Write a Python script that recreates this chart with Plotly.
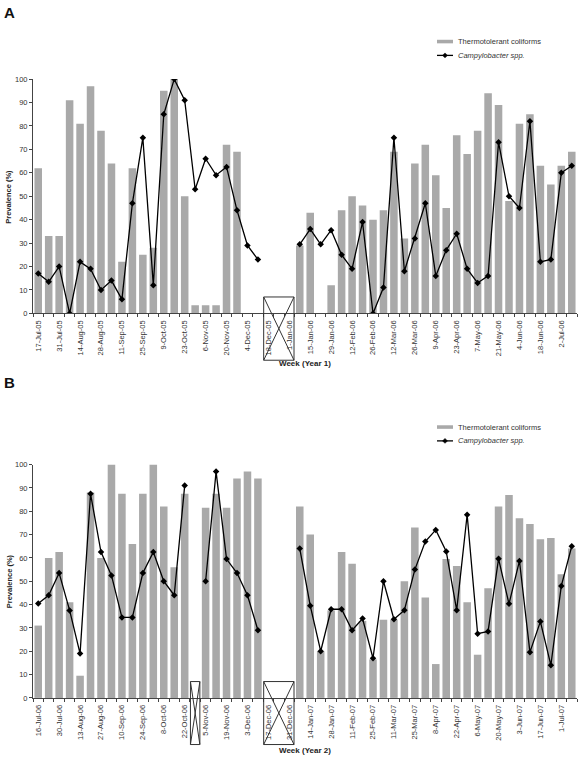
import pandas as pd
import plotly.graph_objects as go

W, H = 580, 778

# ---- categories (weekly sampling dates) ----
weeks_a = [d.strftime("%-d-%b-%y") for d in pd.date_range("2005-07-17", periods=52, freq="7D")]
weeks_b = [d.strftime("%-d-%b-%y") for d in pd.date_range("2006-07-16", periods=52, freq="7D")]
ticks_a = weeks_a[::2]
ticks_b = weeks_b[::2]

# ---- series values (prevalence %) ----
coliforms_a = [62, 33, 33, 91, 81, 97, 78, 64, 22, 62, 25, 28, 95, 100, 50, 3.5, 3.5, 3.5, 72, 69, None, None,
               None, None, None,
               29, 43, None, 12, 44, 50, 46, 40, 44, 69, 32, 64, 72, 59, 45, 76, 68, 78, 94, 89,
               48, 81, 85, 63, 55, 63, 69]
campy_a = [17, 13.5, 20, 0, 22, 19, 10, 14, 6, 47, 75, 12, 85, 100, 91, 53, 66, 59, 62.5, 44, 29, 23,
           None, None, None,
           29.5, 36, 29.5, 35.5, 25, 19, 39, 0, 11, 75, 18, 32, 47, 16, 27, 34, 19, 13, 16, 73,
           50, 45, 82, 22, 23, 60, 63]

coliforms_b = [31, 60, 62.5, 41, 9.5, 88, 60, 100, 87.5, 66, 87.5, 100, 82, 56, 87.5, None,
               81.5, 87.5, 81.5, 94, 97, 94, None, None, None,
               82, 70, 20, 37.5, 62.5, 57.5, 33, 16.5, 33.5, 33.5, 50, 73, 43, 14.5, 59.5, 56.5,
               41, 18.5, 47, 82, 87, 77, 74.5, 68, 68.5, 53, 64]
campy_b = [40.5, 44, 53.5, 37.5, 19, 87.5, 62.5, 52.5, 34.5, 34.5, 53.5, 62.5, 50, 44, 91, None,
           50, 97, 59.5, 53.5, 44, 29, None, None, None,
           64, 39.5, 20, 38, 38, 29, 34, 17, 50, 33.7, 37.6, 55, 67, 72, 62.8, 37.6,
           78.5, 27.5, 28.5, 59.6, 40.3, 58.7, 19.6, 32.7, 14, 48, 65]

# weeks with no sampling (marked with crossed boxes)
gaps_a = [("18-Dec-05", "1-Jan-06")]
gaps_b = [("29-Oct-06", "29-Oct-06"), ("17-Dec-06", "31-Dec-06")]

legend_names = ["Thermotolerant coliforms", "<i>Campylobacter spp.</i>"]
y_ticks = list(range(0, 101, 10))

FONT = "Liberation Sans, Arial, sans-serif"
BAR_COLOR = "#a9a9a9"
AXIS_COLOR = "#444444"

def px(x):
    return x / W

def py(y):
    return 1 - y / H

X_DOM = [px(33), px(577)]
YA_DOM = [py(313), py(76)]
YB_DOM = [py(702), py(466)]

fig = go.Figure()

def add_panel(weeks, colif, campy, xa, ya):
    idx = list(range(len(weeks)))
    fig.add_trace(go.Bar(x=idx, y=colif, width=0.72, marker=dict(color=BAR_COLOR, line=dict(width=0)),
                         xaxis=xa, yaxis=ya, showlegend=False, name=legend_names[0],
                         customdata=weeks, hovertemplate="%{customdata}: %{y}%<extra></extra>"))
    fig.add_trace(go.Scatter(x=idx, y=campy, mode="lines+markers", connectgaps=False,
                             line=dict(color="black", width=1.3),
                             marker=dict(symbol="diamond", size=5, color="black"),
                             xaxis=xa, yaxis=ya, showlegend=False, name=legend_names[1],
                             customdata=weeks, hovertemplate="%{customdata}: %{y}%<extra></extra>"))

add_panel(weeks_a, coliforms_a, campy_a, "x", "y")
add_panel(weeks_b, coliforms_b, campy_b, "x2", "y2")

def xaxis_cfg(weeks, ticklabels):
    n = len(weeks)
    return dict(domain=X_DOM, range=[-0.5, n - 0.5], showline=True, linecolor=AXIS_COLOR, linewidth=1,
                tickmode="array", tickvals=[weeks.index(t) for t in ticklabels], ticktext=ticklabels,
                tickangle=-90, ticks="outside", ticklen=3, tickcolor="rgba(0,0,0,0)",
                tickfont=dict(family=FONT, size=7.5, color="#333"),
                minor=dict(tickmode="array", tickvals=[i - 0.5 for i in range(n + 1)],
                           ticks="outside", ticklen=3, tickcolor=AXIS_COLOR),
                showgrid=False, zeroline=False, fixedrange=True)

def yaxis_cfg(dom, anchor):
    return dict(domain=dom, anchor=anchor, range=[0, 100], showline=True, linecolor=AXIS_COLOR, linewidth=1,
                tickmode="array", tickvals=y_ticks, ticks="outside", ticklen=3, tickcolor=AXIS_COLOR,
                tickfont=dict(family=FONT, size=7.5, color="#333"), showgrid=False, zeroline=False,
                fixedrange=True)

fig.update_layout(
    width=W, height=H, margin=dict(l=0, r=0, t=0, b=0),
    paper_bgcolor="white", plot_bgcolor="white", bargap=0.28, showlegend=False,
    xaxis=dict(anchor="y", **xaxis_cfg(weeks_a, ticks_a)),
    yaxis=yaxis_cfg(YA_DOM, "x"),
    xaxis2=dict(anchor="y2", **xaxis_cfg(weeks_b, ticks_b)),
    yaxis2=yaxis_cfg(YB_DOM, "x2"),
)

shapes = []
annotations = []

def gap_boxes(weeks, gaps, xr, yr):
    n = len(weeks)
    for a, b in gaps:
        i0, i1 = weeks.index(a), weeks.index(b)
        x0 = (i0 - 0.45 + 0.5) / n
        x1 = (i1 + 0.45 + 0.5) / n
        yt, yb = 0.07, -0.2
        st = dict(xref=xr + " domain", yref=yr + " domain", line=dict(color="#333", width=1), layer="above")
        shapes.append(dict(type="rect", x0=x0, x1=x1, y0=yb, y1=yt, fillcolor="rgba(0,0,0,0)", **st))
        shapes.append(dict(type="line", x0=x0, x1=x1, y0=yt, y1=yb, **st))
        shapes.append(dict(type="line", x0=x1, x1=x0, y0=yt, y1=yb, **st))

gap_boxes(weeks_a, gaps_a, "x", "y")
gap_boxes(weeks_b, gaps_b, "x2", "y2")

def legend(ytop):
    # bar swatch
    shapes.append(dict(type="rect", xref="paper", yref="paper", x0=px(437), x1=px(453),
                       y0=py(ytop + 1.8), y1=py(ytop - 1.8), fillcolor=BAR_COLOR, line=dict(width=0)))
    annotations.append(dict(xref="paper", yref="paper", x=px(456), y=py(ytop), text=legend_names[0],
                            showarrow=False, xanchor="left", yanchor="middle",
                            font=dict(family=FONT, size=7.5, color="#333")))
    y2 = ytop + 14
    shapes.append(dict(type="line", xref="paper", yref="paper", x0=px(437), x1=px(453),
                       y0=py(y2), y1=py(y2), line=dict(color="black", width=1.3)))
    cx, cy, r = 445, y2, 2.5
    shapes.append(dict(type="path", xref="paper", yref="paper",
                       path=f"M{px(cx)},{py(cy - r)} L{px(cx + r)},{py(cy)} L{px(cx)},{py(cy + r)} L{px(cx - r)},{py(cy)} Z",
                       fillcolor="black", line=dict(color="black", width=0.5)))
    annotations.append(dict(xref="paper", yref="paper", x=px(456), y=py(y2), text=legend_names[1],
                            showarrow=False, xanchor="left", yanchor="middle",
                            font=dict(family=FONT, size=7.5, color="#333")))

legend(38)
legend(428)

def axis_titles(ycenter, xtitle_y, xtitle):
    annotations.append(dict(xref="paper", yref="paper", x=px(9), y=py(ycenter), text="<b>Prevalence (%)</b>",
                            textangle=-90, showarrow=False, xanchor="center", yanchor="middle",
                            font=dict(family=FONT, size=7.5, color="#222")))
    annotations.append(dict(xref="paper", yref="paper", x=px(305), y=py(xtitle_y), text=f"<b>{xtitle}</b>",
                            showarrow=False, xanchor="center", yanchor="middle",
                            font=dict(family=FONT, size=8, color="#222")))

axis_titles(195, 364, "Week (Year 1)")
axis_titles(584, 755, "Week (Year 2)")

annotations.append(dict(xref="paper", yref="paper", x=px(9), y=py(9), text="<b>A</b>", showarrow=False,
                        xanchor="center", yanchor="middle", font=dict(family=FONT, size=15, color="#111")))
annotations.append(dict(xref="paper", yref="paper", x=px(9), y=py(383), text="<b>B</b>", showarrow=False,
                        xanchor="center", yanchor="middle", font=dict(family=FONT, size=15, color="#111")))

fig.update_layout(shapes=shapes, annotations=annotations)

fig.write_html("out.html")
